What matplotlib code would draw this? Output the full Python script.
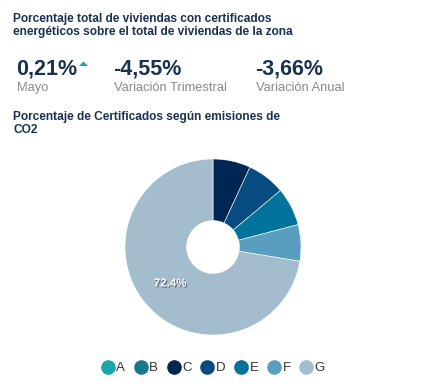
import matplotlib.pyplot as plt
from matplotlib.lines import Line2D
from matplotlib.patches import Polygon
import matplotlib.patheffects as pe

plt.rcParams['font.family'] = ['Liberation Sans', 'DejaVu Sans']

W, H = 437, 391

################################
# Data
################################
categories = ['A', 'B', 'C', 'D', 'E', 'F', 'G']
shares = [0.0, 0.0, 6.9, 7.0, 7.0, 6.7, 72.4]
colors = ['#19a6aa', '#14798a', '#002754', '#064c80', '#00739c', '#5a9ebf', '#a4bdcd']

kpi_values = ['0,21%', '-4,55%', '-3,66%']
kpi_labels = ['Mayo', 'Variación Trimestral', 'Variación Anual']

title1 = 'Porcentaje total de viviendas con certificados\nenergéticos sobre el total de viviendas de la zona'
title2 = 'Porcentaje de Certificados según emisiones de\nCO2'

navy = '#18324f'
grey = '#8a8a8a'

def fx(px):
    return px / W

def fy(py):
    return 1 - py / H

################################
# Plot
################################
fig = plt.figure(figsize=(W / 100, H / 100), dpi=100)

fig.text(fx(13), fy(13), title1, fontsize=8.6, fontweight='bold', color=navy,
         va='top', linespacing=1.15)

kpi_x = [16, 113, 255]
for x, v, lab in zip(kpi_x, kpi_values, kpi_labels):
    fig.text(fx(x), fy(74), v, fontsize=15.5, fontweight='bold', color=navy, va='baseline')
    fig.text(fx(x + 1), fy(91), lab, fontsize=9.3, color=grey, va='baseline')

# small "up" arrow next to the first value
fig.add_artist(Polygon([(fx(79), fy(66)), (fx(88), fy(66)), (fx(83.5), fy(61.5))],
                       closed=True, transform=fig.transFigure,
                       facecolor='#1aa5a8', edgecolor='none'))

fig.text(fx(13), fy(111), title2, fontsize=8.6, fontweight='bold', color=navy,
         va='top', linespacing=1.15)

cx, cy, r = 213, 247, 88
ax = fig.add_axes([fx(cx - r), fy(cy + r), 2 * r / W, 2 * r / H])
wedges, texts, autotexts = ax.pie(
    shares, colors=colors, startangle=90, counterclock=False,
    wedgeprops=dict(width=0.7, edgecolor='white', linewidth=0.4),
    autopct=lambda p: f'{p:.1f}%' if p > 10 else '', pctdistance=0.64,
    textprops=dict(color='white', fontsize=8.3, fontweight='bold'))
for t in autotexts:
    t.set_path_effects([pe.withSimplePatchShadow(offset=(0.8, -0.8),
                                                 shadow_rgbFace='#3a4a55', alpha=0.7)])
ax.set_xlim(-1, 1)
ax.set_ylim(-1, 1)
ax.set_aspect('equal')

handles = [Line2D([], [], marker='o', linestyle='', markersize=9.5,
                  markerfacecolor=c, markeredgecolor=c) for c in colors]
fig.legend(handles, categories, loc='center', bbox_to_anchor=(fx(213), fy(368)),
           ncol=7, frameon=False, fontsize=9.5, handletextpad=0.15,
           columnspacing=0.68, handlelength=1.0, labelcolor='#333333')

fig.savefig('out.png', dpi=100)
